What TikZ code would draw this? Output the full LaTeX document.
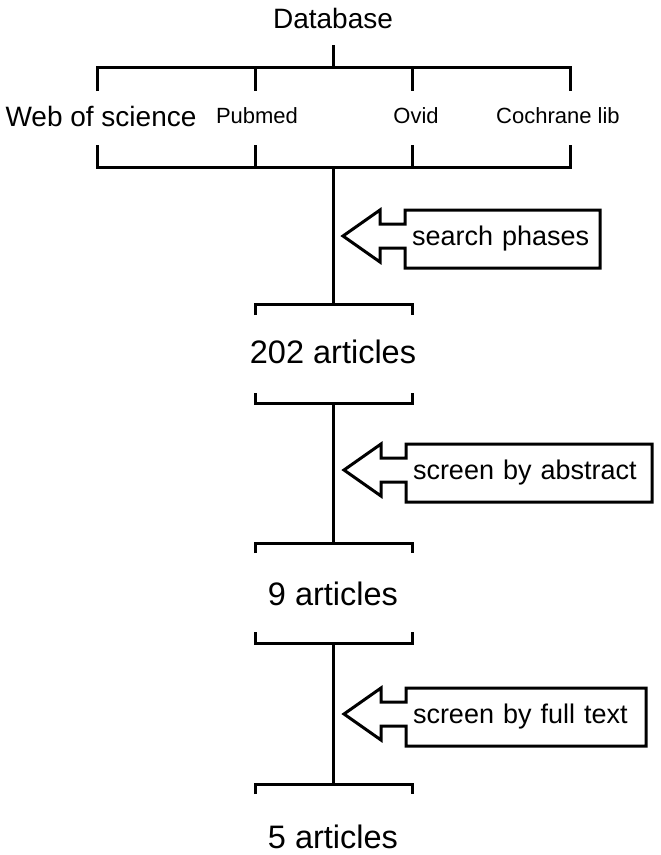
\documentclass[tikz,border=0pt]{standalone}
\usepackage{fontspec}
\setmainfont{Liberation Sans}
\usetikzlibrary{calc}

% outline of a phase box with its left arrow
\newcommand{\phasearrow}[1]{%
  \draw (#1.north west) -- (#1.north east) -- (#1.south east) -- (#1.south west)
    -- ++(0,-20) -- ++(-25,0) -- ++(0,14) -- ++(-37,-26) -- ++(37,-26)
    -- ++(0,14) -- ++(25,0) -- cycle;}

\begin{document}
\begin{tikzpicture}[x=1pt,y=-1pt,line width=3pt,
  dbname/.style={font=\fontsize{22}{26}\selectfont},
  count/.style={font=\fontsize{32.5}{38}\selectfont},
  phase/.style={font=\fontsize{27}{32}\selectfont, anchor=west, align=left,
    inner xsep=7pt, inner ysep=0pt, outer sep=0pt, minimum height=58pt}]

\useasboundingbox (0,0) rectangle (661,855);

% databases
\node (database) at (333,18) {\fontsize{28}{33}\selectfont Database};
\node (wos) at (101,116) {\fontsize{28}{33}\selectfont Web of science};
\node [dbname] (pubmed) at (257,116) {Pubmed};
\node [dbname] (ovid) at (416,116) {Ovid};
\node [dbname] (cochrane) at (558,116) {Cochrane lib};

\coordinate (dbstem) at (333,45);
\coordinate (dbtop) at (333,67);
\coordinate (dbbot) at (333,167);

\draw (dbstem) -- (dbtop);
\draw (97,91) -- (97,67) -- (570,67) -- (570,91);
\draw (97,145) -- (97,167) -- (570,167) -- (570,145);
\foreach \x in {255,412} {
  \draw (\x,67) -- (\x,91);
  \draw (\x,145) -- (\x,167);
}

% article counts
\node [count] (n202) at (333,352) {202 articles};
\node [count] (n9) at (333,594) {9 articles};
\node [count] (n5) at (333,837) {5 articles};

\coordinate (b1) at (333,304);
\coordinate (t2) at (333,403);
\coordinate (b2) at (333,543);
\coordinate (t3) at (333,643);
\coordinate (b3) at (333,784);

\draw (dbbot) -- (b1);
\draw (t2) -- (b2);
\draw (t3) -- (b3);

\draw (255,315) -- (255,304) -- (412,304) -- (412,315);
\draw (255,393) -- (255,403) -- (412,403) -- (412,393);
\draw (255,553) -- (255,543) -- (412,543) -- (412,553);
\draw (255,632) -- (255,643) -- (412,643) -- (412,632);
\draw (255,794) -- (255,784) -- (412,784) -- (412,794);

% screening phases
\node [phase, text width=181pt] (search) at (405,239) {search phases};
\node [phase, text width=232pt] (abstract) at (406,473) {screen by abstract};
\node [phase, text width=226pt] (fulltext) at (406,717) {screen by full text};

\phasearrow{search}
\phasearrow{abstract}
\phasearrow{fulltext}

\end{tikzpicture}
\end{document}
